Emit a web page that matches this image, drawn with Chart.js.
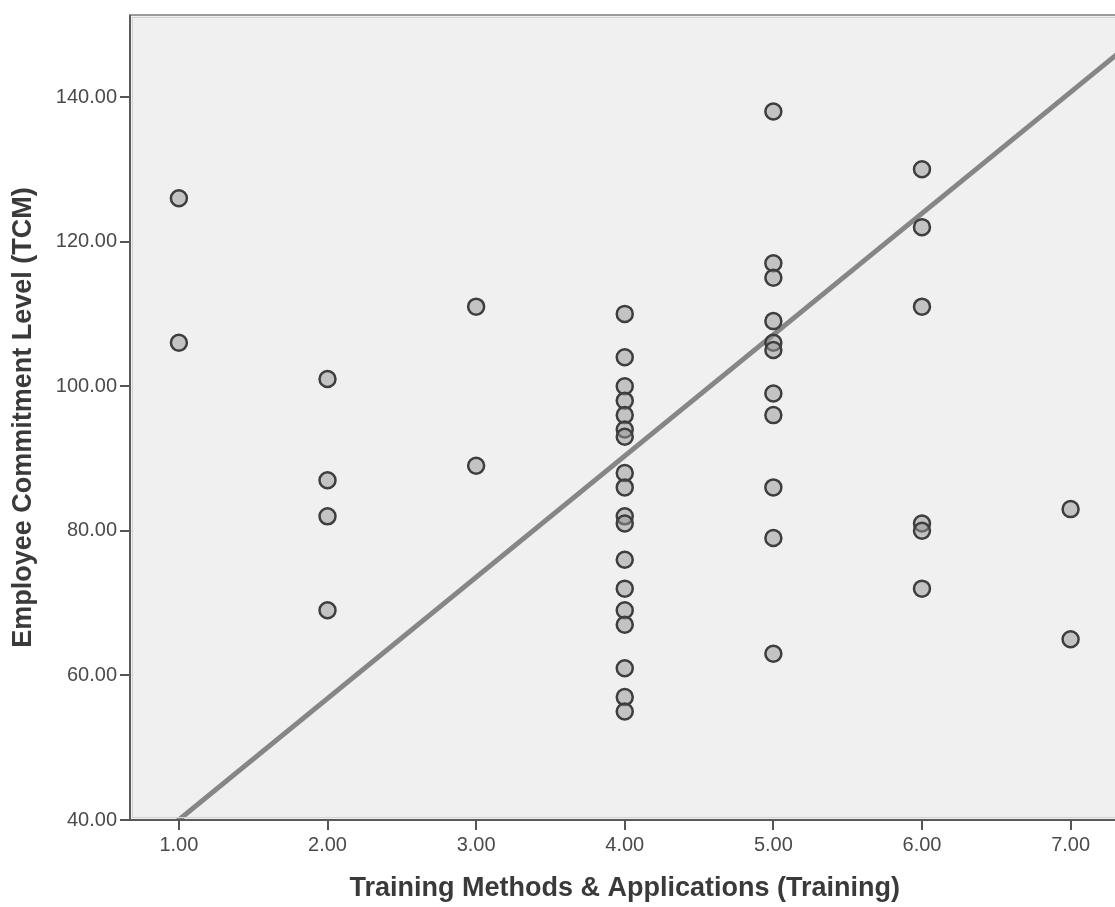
<!DOCTYPE html>
<html lang="en">

<head>
    <meta charset="UTF-8">
    <title>Training vs Employee Commitment</title>
    <script src="https://cdn.jsdelivr.net/npm/chart.js"></script>
    <style>
        body {
            margin: 0;
            background-color: #ffffff;
            overflow: hidden;
        }

        .chart-container {
            width: 1130px;
            height: 907px;
        }
    </style>
</head>

<body>
    <div class="chart-container">
        <canvas id="scatterChart"></canvas>
    </div>

    <script>
        // training level (x) and the commitment scores seen at each level (y)
        const trainingLevels = [1, 2, 3, 4, 5, 6, 7];
        const commitLevel1 = [126, 106];
        const commitLevel2 = [101, 87, 82, 69];
        const commitLevel3 = [111, 89];
        const commitLevel4 = [110, 104, 100, 98, 96, 94, 93, 88, 86, 82, 81, 76, 72, 69, 67, 61, 57, 55];
        const commitLevel5 = [138, 117, 115, 109, 106, 105, 99, 96, 86, 79, 63];
        const commitLevel6 = [130, 122, 111, 81, 80, 72];
        const commitLevel7 = [83, 65];

        // fit line end points
        const fitX = [0.67, 7.33];
        const fitY = [34.5, 146.2];

        const xTicks = [1, 2, 3, 4, 5, 6, 7];
        const yTicks = [40, 60, 80, 100, 120, 140];

        const allLevels = [commitLevel1, commitLevel2, commitLevel3, commitLevel4, commitLevel5, commitLevel6, commitLevel7];
        const points = [];
        allLevels.forEach((vals, i) => {
            vals.forEach(v => points.push({ x: trainingLevels[i], y: v }));
        });
        const fitLine = fitX.map((x, i) => ({ x: x, y: fitY[i] }));

        const plotFrame = {
            id: 'plotFrame',
            beforeDatasetsDraw(chart) {
                const { ctx, chartArea: a } = chart;
                ctx.save();
                ctx.fillStyle = '#f0f0f0';
                ctx.fillRect(a.left, a.top, a.right - a.left, a.bottom - a.top);
                ctx.restore();
            },
            afterDraw(chart) {
                const { ctx, chartArea: a } = chart;
                ctx.save();
                ctx.strokeStyle = '#9a9a9a';
                ctx.lineWidth = 2;
                ctx.strokeRect(a.left, a.top, a.right - a.left, a.bottom - a.top);
                ctx.strokeStyle = '#d2d2d2';
                ctx.lineWidth = 1;
                ctx.strokeRect(a.left + 2.5, a.top + 2.5, a.right - a.left - 5, a.bottom - a.top - 5);
                ctx.strokeStyle = '#5a5a5a';
                ctx.lineWidth = 2;
                ctx.beginPath();
                ctx.moveTo(a.left, a.top);
                ctx.lineTo(a.left, a.bottom);
                ctx.lineTo(a.right, a.bottom);
                ctx.stroke();
                ctx.restore();
            }
        };

        const tickFont = { family: "'Liberation Sans', Arial, sans-serif", size: 20 };
        const titleFont = { family: "'Liberation Sans', Arial, sans-serif", size: 27, weight: 'bold' };

        window.onload = () => {
            const ctx = document.getElementById('scatterChart').getContext('2d');
            new Chart(ctx, {
                type: 'scatter',
                data: {
                    datasets: [{
                        label: 'Observed',
                        data: points,
                        pointRadius: 8,
                        pointHoverRadius: 8,
                        borderWidth: 2.5,
                        borderColor: '#3e3e3e',
                        backgroundColor: 'rgba(150,150,150,0.5)',
                        order: 1
                    }, {
                        type: 'line',
                        label: 'Linear fit',
                        data: fitLine,
                        borderColor: '#868686',
                        borderWidth: 5,
                        pointRadius: 0,
                        fill: false,
                        order: 2
                    }]
                },
                options: {
                    responsive: true,
                    maintainAspectRatio: false,
                    animation: false,
                    layout: { padding: { top: 15, right: 8, left: 0, bottom: 0 } },
                    plugins: {
                        legend: { display: false },
                        tooltip: { enabled: false }
                    },
                    scales: {
                        x: {
                            type: 'linear',
                            min: 0.671,
                            max: 7.329,
                            afterBuildTicks: scale => { scale.ticks = xTicks.map(v => ({ value: v })); },
                            afterFit: scale => { scale.height = 87; },
                            grid: { drawOnChartArea: false, drawTicks: true, tickLength: 10, color: '#555', lineWidth: 2 },
                            border: { display: false },
                            ticks: {
                                color: '#4a4a4a',
                                font: tickFont,
                                padding: 3,
                                maxRotation: 0,
                                callback: v => v.toFixed(2)
                            },
                            title: {
                                display: true,
                                text: 'Training Methods & Applications (Training)',
                                color: '#3a3a3a',
                                font: titleFont,
                                padding: { top: 0, bottom: 2 }
                            }
                        },
                        y: {
                            type: 'linear',
                            min: 40,
                            max: 151.34,
                            afterBuildTicks: scale => { scale.ticks = yTicks.map(v => ({ value: v })); },
                            afterFit: scale => { scale.width = 130; },
                            grid: { drawOnChartArea: false, drawTicks: true, tickLength: 10, color: '#555', lineWidth: 2 },
                            border: { display: false },
                            ticks: {
                                color: '#4a4a4a',
                                font: tickFont,
                                padding: 3,
                                callback: v => v.toFixed(2)
                            },
                            title: {
                                display: true,
                                text: 'Employee Commitment Level (TCM)',
                                color: '#3a3a3a',
                                font: titleFont,
                                padding: { top: 7, bottom: 0 }
                            }
                        }
                    }
                },
                plugins: [plotFrame]
            });
        };
    </script>
</body>

</html>
